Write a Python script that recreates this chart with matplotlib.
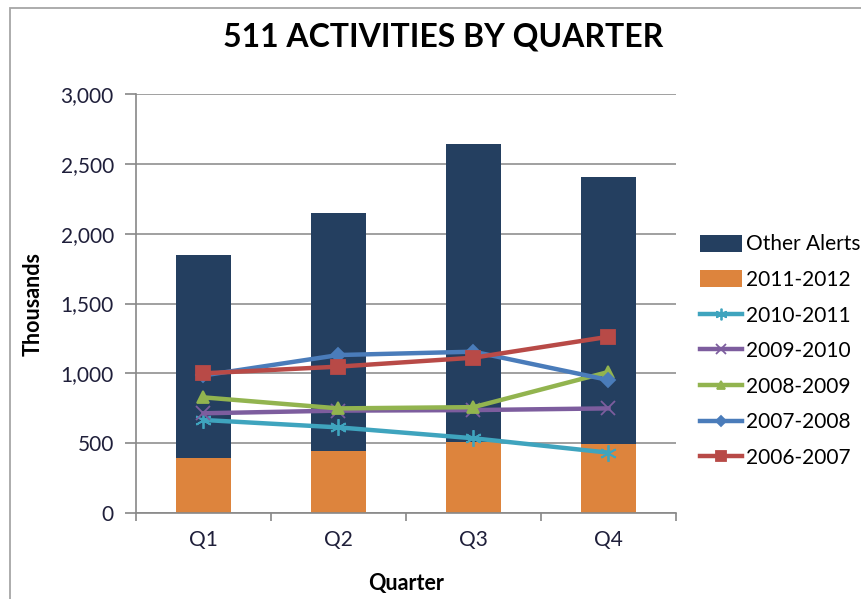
import numpy as np
import matplotlib.pyplot as plt
from matplotlib.patches import Rectangle

quarters = ["Q1", "Q2", "Q3", "Q4"]
alerts_2011_2012 = [394, 444, 510, 494]
other_alerts = [1453, 1703, 2131, 1911]
s2010_2011 = [666, 613, 535, 432]
s2009_2010 = [714, 733, 737, 749]
s2008_2009 = [828, 749, 758, 1010]
s2007_2008 = [985, 1131, 1155, 952]
s2006_2007 = [1000, 1048, 1112, 1262]

plt.rcParams['font.family'] = ['Lato', 'DejaVu Sans']

fig = plt.figure(figsize=(8.62, 5.99), dpi=100)
ax = fig.add_axes([136 / 862, 1 - 513 / 599, 540 / 862, 419 / 599])

# chart frame (runs off the right and bottom edges)
fig.patches.append(Rectangle((10 / 862, -0.5), 2, 1.5 - 8 / 599, transform=fig.transFigure,
                             fill=False, edgecolor='#A6A6A6', lw=1.3, zorder=-1))

x = np.arange(len(quarters))
w = 0.41
ax.bar(x, alerts_2011_2012, w, color='#DD843D', label='2011-2012', zorder=2)
ax.bar(x, other_alerts, w, bottom=alerts_2011_2012, color='#243F60', label='Other Alerts', zorder=2)

lines = [
    (s2010_2011, '#3FA4BE', (6, 2, 0), '2010-2011', 12),
    (s2009_2010, '#7D5D9E', 'x', '2009-2010', 10),
    (s2008_2009, '#92B44F', '^', '2008-2009', 9),
    (s2007_2008, '#4A7CBA', 'D', '2007-2008', 7),
    (s2006_2007, '#B84A47', 's', '2006-2007', 10),
]
for vals, col, mk, lab, ms in lines:
    ax.plot(x, vals, color=col, lw=3.2, marker=mk, ms=ms, mew=1.3,
            mec=col, mfc=col, label=lab, zorder=3)

ax.set_xlim(-0.5, 3.5)
ax.set_ylim(0, 3000)
ax.set_yticks(np.arange(0, 3001, 500))
ax.set_yticklabels([f"{v:,}" for v in range(0, 3001, 500)])
ax.yaxis.grid(True, color='#A0A0A0', lw=1.4, zorder=0)
ax.set_axisbelow(True)
ax.set_xticks(x)
ax.set_xticklabels(quarters)
ax.set_xticks(np.arange(-0.5, 3.6, 1), minor=True)
ax.tick_params(axis='x', which='major', length=0, pad=12)
ax.tick_params(axis='x', which='minor', length=6, color='#888888', width=1.2)
ax.tick_params(axis='y', length=8, color='#888888', width=1.2, pad=8)
ax.tick_params(labelsize=15, labelcolor='#1F1F3A')
for s in ['top', 'right']:
    ax.spines[s].set_visible(False)
for s in ['left', 'bottom']:
    ax.spines[s].set_color('#888888')
    ax.spines[s].set_linewidth(1.2)

ax.set_ylabel('Thousands', fontsize=15.5, fontweight='bold', labelpad=12)
ax.set_xlabel('Quarter', fontsize=15.5, fontweight='bold', labelpad=17)
fig.text(443 / 862, 1 - 37 / 599, '511 ACTIVITIES BY QUARTER', ha='center', va='center',
         fontsize=23, fontweight='bold')

h, l = ax.get_legend_handles_labels()
order = ['Other Alerts', '2011-2012', '2010-2011', '2009-2010', '2008-2009', '2007-2008', '2006-2007']
hd = dict(zip(l, h))
fig.legend([hd[k] for k in order], order, loc='upper left', bbox_to_anchor=(692 / 862, 1 - 226 / 599),
           frameon=False, fontsize=15, handlelength=2.0, handleheight=0.9, labelspacing=0.75,
           handletextpad=0.2, borderaxespad=0, markerscale=0.7)

fig.savefig('out.png', dpi=100)
